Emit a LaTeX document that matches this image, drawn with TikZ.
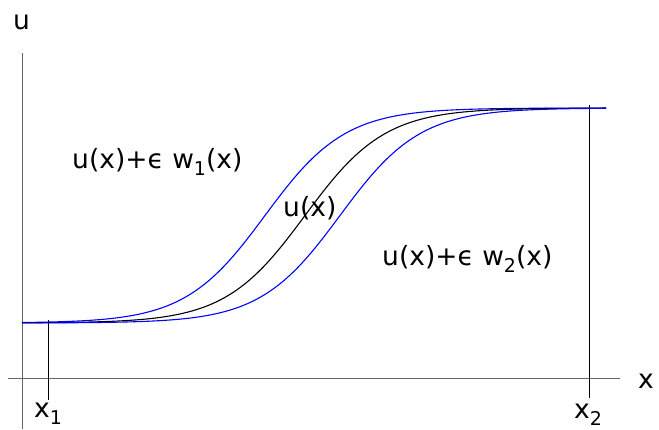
\documentclass[tikz,border=0pt]{standalone}
\usepackage{fontspec}
\setmainfont{DejaVu Sans}
\begin{document}
\begin{tikzpicture}[x=1pt,y=-1pt,
  lbl/.style={inner sep=0pt,anchor=base west,font=\fontsize{26.5}{30}\selectfont},
  axis/.style={draw=black!60,line width=1pt},
  mark line/.style={draw=black,line width=1pt},
  curve/.style={line width=1.1pt}]
\useasboundingbox (0,0) rectangle (659,429);
\newcommand{\sbs}[1]{\raisebox{-0.28em}{\fontsize{19}{20}\selectfont #1}}
% axes
\coordinate (ytop) at (22,53);
\coordinate (ybot) at (22,429);
\coordinate (xl) at (8,378);
\coordinate (xr) at (620,378);
\draw[axis] (ytop) -- (ybot);
\draw[axis] (xl) -- (xr);
% x1, x2 lines
\coordinate (a1) at (48,320);
\coordinate (b1) at (48,400);
\coordinate (a2) at (589,105);
\coordinate (b2) at (589,398);
\draw[mark line] (a1) -- (b1);
\draw[mark line] (a2) -- (b2);
% curves
\draw[curve,blue] plot[domain=22:606,samples=160] (\x,{215.5-107.5*tanh((\x-265)/80)});
\draw[curve,black] plot[domain=22:606,samples=160] (\x,{215.5-107.5*tanh((\x-305)/80)});
\draw[curve,blue] plot[domain=22:606,samples=160] (\x,{215.5-107.5*tanh((\x-340)/80)});
% labels
\node[lbl] (ulab) at (13,29) {u};
\node[lbl] (xlab) at (638,388) {x};
\node[lbl] (x1lab) at (34,417) {x\sbs{1}};
\node[lbl] (x2lab) at (574,418) {x\sbs{2}};
\node[lbl] (w1lab) at (72,168) {u(x)+ϵ w\sbs{1}(x)};
\node[lbl] (ulabel) at (283,216) {u(x)};
\node[lbl] (w2lab) at (382,265) {u(x)+ϵ w\sbs{2}(x)};
\end{tikzpicture}
\end{document}
